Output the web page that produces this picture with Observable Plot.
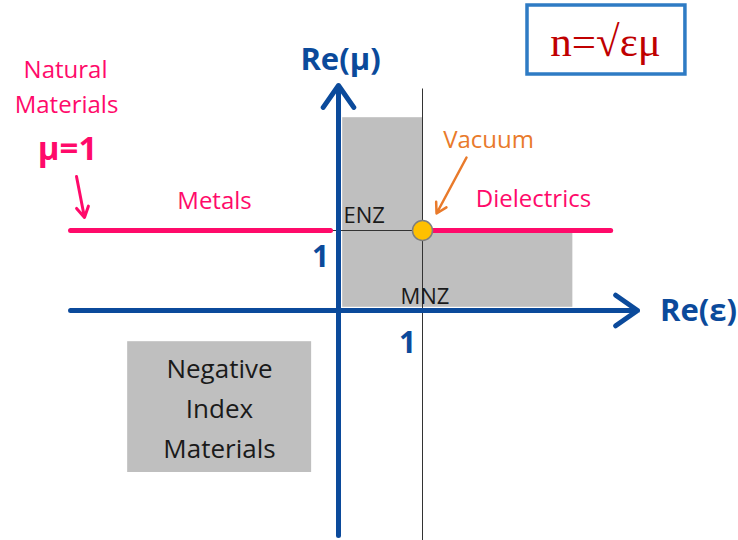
<!DOCTYPE html>
<html>
<head>
<meta charset="utf-8">
<script src="https://cdn.jsdelivr.net/npm/d3@7"></script>
<script src="https://cdn.jsdelivr.net/npm/@observablehq/plot@0.6"></script>
<style>
  html, body { margin: 0; padding: 0; background: #fff; }
  #chart svg { display: block; }
</style>
</head>
<body>
<div id="chart"></div>
<script>
// Diagram in (Re(ε), Re(μ)) units; origin where the axes cross, 1 = the vacuum point.
const axisArrows = [
  {x1: -3.19, y1: 0, x2: 3.56, y2: 0},      // Re(ε)
  {x1: 0, y1: -2.8125, x2: 0, y2: 2.8125}   // Re(μ)
];
const guideLines = [
  {x1: -0.095, y1: 1, x2: 1, y2: 1},        // μ = 1 (ENZ)
  {x1: 1, y1: 2.775, x2: 1, y2: -2.875}     // ε = 1
];
const naturalLines = [
  {x1: -3.19, y1: 1, x2: -0.095, y2: 1},    // Metals
  {x1: 1.12, y1: 1, x2: 3.24, y2: 1}        // Dielectrics
];
const nearZeroRegions = [
  {x1: 0.05, x2: 1, y1: 0.04, y2: 2.41},
  {x1: 1, x2: 2.79, y1: 0.04, y2: 0.975}
];
const negativeBox = [{x1: -2.51, x2: -0.32, y1: -0.39, y2: -2.025}];
const formulaBox = [{x1: 2.25, x2: 4.13, y1: 3.8125, y2: 2.95}];
const vacuumPoint = [{x: 1, y: 1}];
const vacuumArrow = [{x1: 1.524, y1: 1.9125, x2: 1.167, y2: 1.2125}];
const naturalArrow = [{x1: -3.119, y1: 1.675, x2: -3.024, y2: 1.1625}];

const axisTitles = [
  {x: 0.024, y: 3.0125, text: "Re(μ)"},
  {x: 4.286, y: -0.125, text: "Re(ε)"}
];
const unitTicks = [
  {x: -0.214, y: 0.55, text: "1"},
  {x: 0.821, y: -0.525, text: "1"}
];
const zoneLabels = [
  {x: 0.06, y: 1.1, text: "ENZ"},
  {x: 0.738, y: 0.0875, text: "MNZ"}
];
const materialLabels = [
  {x: -1.476, y: 1.275, text: "Metals"},
  {x: 2.321, y: 1.3, text: "Dielectrics"},
  {x: -3.25, y: 2.9125, text: "Natural"},
  {x: -3.238, y: 2.475, text: "Materials"}
];
const naturalValue = [{x: -3.226, y: 1.8875, text: "μ=1"}];
const vacuumLabel = [{x: 1.786, y: 2.0375, text: "Vacuum"}];
const negativeLabel = [
  {x: -1.417, y: -0.8375, text: "Negative"},
  {x: -1.417, y: -1.3375, text: "Index"},
  {x: -1.417, y: -1.8375, text: "Materials"}
];
const formulaLabel = [{x: 3.179, y: 3.1875, text: "n=√εμ"}];

const BLUE = "#0b4a9b", PINK = "#ff0a6a", ORANGE = "#e97a2b", GRAY = "#bfbfbf";
const sans = "Open Sans";

const chart = Plot.plot({
  width: 738,
  height: 540,
  margin: 0,
  x: {domain: [-338 / 84, 400 / 84], axis: null},
  y: {domain: [-230 / 80, 310 / 80], axis: null},
  style: {background: "#fff"},
  marks: [
    Plot.rect(nearZeroRegions, {x1: "x1", x2: "x2", y1: "y1", y2: "y2", fill: GRAY}),
    Plot.rect(negativeBox, {x1: "x1", x2: "x2", y1: "y1", y2: "y2", fill: GRAY}),
    Plot.rect(formulaBox, {x1: "x1", x2: "x2", y1: "y1", y2: "y2", fill: "#fff", stroke: "#2e7bc4", strokeWidth: 3.5}),
    Plot.link(guideLines, {x1: "x1", y1: "y1", x2: "x2", y2: "y2", stroke: "#333", strokeWidth: 1}),
    Plot.arrow(axisArrows, {x1: "x1", y1: "y1", x2: "x2", y2: "y2", stroke: BLUE, strokeWidth: 5, headLength: 8, headAngle: 70}),
    Plot.link(naturalLines, {x1: "x1", y1: "y1", x2: "x2", y2: "y2", stroke: PINK, strokeWidth: 5, strokeLinecap: "round"}),
    Plot.arrow(vacuumArrow, {x1: "x1", y1: "y1", x2: "x2", y2: "y2", stroke: ORANGE, strokeWidth: 2.5, headLength: 7, headAngle: 60}),
    Plot.arrow(naturalArrow, {x1: "x1", y1: "y1", x2: "x2", y2: "y2", stroke: PINK, strokeWidth: 3, headLength: 6, headAngle: 60}),
    Plot.dot(vacuumPoint, {x: "x", y: "y", r: 10, fill: "#ffc000", stroke: "#7f7f7f", strokeWidth: 1.5}),
    Plot.text(axisTitles, {x: "x", y: "y", text: "text", fill: BLUE, fontSize: 31, fontWeight: "bold", fontFamily: sans, lineAnchor: "bottom"}),
    Plot.text(unitTicks, {x: "x", y: "y", text: "text", fill: BLUE, fontSize: 30, fontWeight: "bold", fontFamily: sans, lineAnchor: "bottom"}),
    Plot.text(zoneLabels, {x: "x", y: "y", text: "text", fill: "#1a1a1a", fontSize: 22, fontFamily: sans, fontWeight: 500, textAnchor: "start", lineAnchor: "bottom"}),
    Plot.text(materialLabels, {x: "x", y: "y", text: "text", fill: PINK, fontSize: 24, fontFamily: sans, fontWeight: 500, lineAnchor: "bottom"}),
    Plot.text(naturalValue, {x: "x", y: "y", text: "text", fill: PINK, fontSize: 33, fontWeight: "bold", fontFamily: sans, lineAnchor: "bottom"}),
    Plot.text(vacuumLabel, {x: "x", y: "y", text: "text", fill: ORANGE, fontSize: 24, fontFamily: sans, fontWeight: 500, lineAnchor: "bottom"}),
    Plot.text(negativeLabel, {x: "x", y: "y", text: "text", fill: "#1a1a1a", fontSize: 26, fontFamily: sans, fontWeight: 500, lineAnchor: "bottom"}),
    Plot.text(formulaLabel, {x: "x", y: "y", text: "text", fill: "#c00000", fontSize: 43, fontFamily: "Liberation Serif", lineAnchor: "bottom"})
  ]
});
document.getElementById("chart").append(chart);
</script>
</body>
</html>
